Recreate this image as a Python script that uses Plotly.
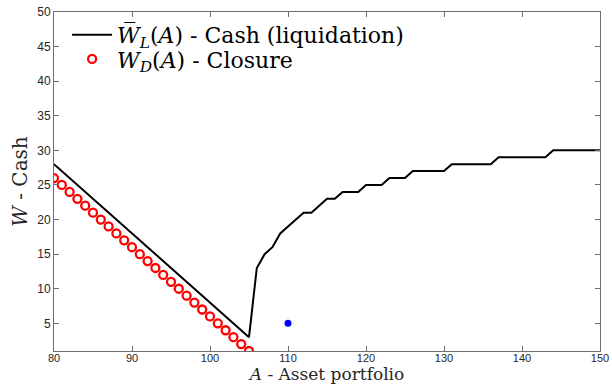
import plotly.graph_objects as go

# Liquidation cash curve W_L(A) over the asset grid
asset_liq = list(range(80, 151))
cash_liq = [108 - a for a in range(80, 106)] + [
    13, 15, 16, 18, 19, 20, 21, 21, 22, 23, 23, 24, 24, 24,   # 106-119
    25, 25, 25, 26, 26, 26, 27, 27, 27, 27, 27,               # 120-130
    28, 28, 28, 28, 28, 28,                                   # 131-136
    29, 29, 29, 29, 29, 29, 29,                               # 137-143
    30, 30, 30, 30, 30, 30, 30,                               # 144-150
]

# Closure cash W_D(A)
asset_close = list(range(80, 106))
cash_close = [106 - a for a in asset_close]

# Single highlighted state
point_asset = [110]
point_cash = [5]

x_ticks = [80, 90, 100, 110, 120, 130, 140, 150]
y_ticks = [5, 10, 15, 20, 25, 30, 35, 40, 45, 50]

serif = "DejaVu Serif, Liberation Serif, serif"
sans = "Liberation Sans, Arial, sans-serif"

fig = go.Figure()
fig.add_trace(go.Scatter(
    x=asset_liq, y=cash_liq, mode="lines",
    line=dict(color="black", width=2),
    name="<i>W̅</i><sub><i>L</i></sub>(<i>A</i>) - Cash (liquidation)",
    legend="legend",
))
fig.add_trace(go.Scatter(
    x=asset_close, y=cash_close, mode="markers",
    marker=dict(symbol="circle-open", size=8, color="red", line=dict(width=2.3, color="red")),
    name="<i>W</i><sub><i>D</i></sub>(<i>A</i>) - Closure",
    legend="legend2",
))
fig.add_trace(go.Scatter(
    x=point_asset, y=point_cash, mode="markers",
    marker=dict(symbol="circle", size=7, color="blue"),
    showlegend=False,
))

axis_common = dict(
    showline=True, linecolor="#6e6e6e", linewidth=1, mirror="ticks",
    ticks="inside", ticklen=5, tickcolor="#6e6e6e", tickwidth=1,
    showgrid=False, zeroline=False, automargin=False,
)

legend_common = dict(
    x=0.024, xanchor="left", yanchor="middle",
    bgcolor="rgba(0,0,0,0)", borderwidth=0,
    font=dict(family=serif, size=22, color="black"),
    itemwidth=40,
)

fig.update_layout(
    width=612, height=384,
    margin=dict(l=54, r=12, t=12, b=33),
    paper_bgcolor="white", plot_bgcolor="white",
    showlegend=True,
    legend=dict(y=0.932, **legend_common),
    legend2=dict(y=0.861, **legend_common),
    xaxis=dict(
        range=[80, 150], tickvals=x_ticks,
        tickfont=dict(family=sans, size=11, color="#262626"),
        ticklabelstandoff=-3,
        title=dict(text="<i>A</i> - Asset portfolio", font=dict(family=serif, size=17, color="#262626"), standoff=3),
        **axis_common,
    ),
    yaxis=dict(
        range=[1, 50], tickvals=y_ticks,
        tickfont=dict(family=sans, size=12, color="#262626"),
        title=dict(text="<i>W</i> - Cash", font=dict(family=serif, size=20, color="#262626"), standoff=4),
        **axis_common,
    ),
)

fig.write_html("out.html")
